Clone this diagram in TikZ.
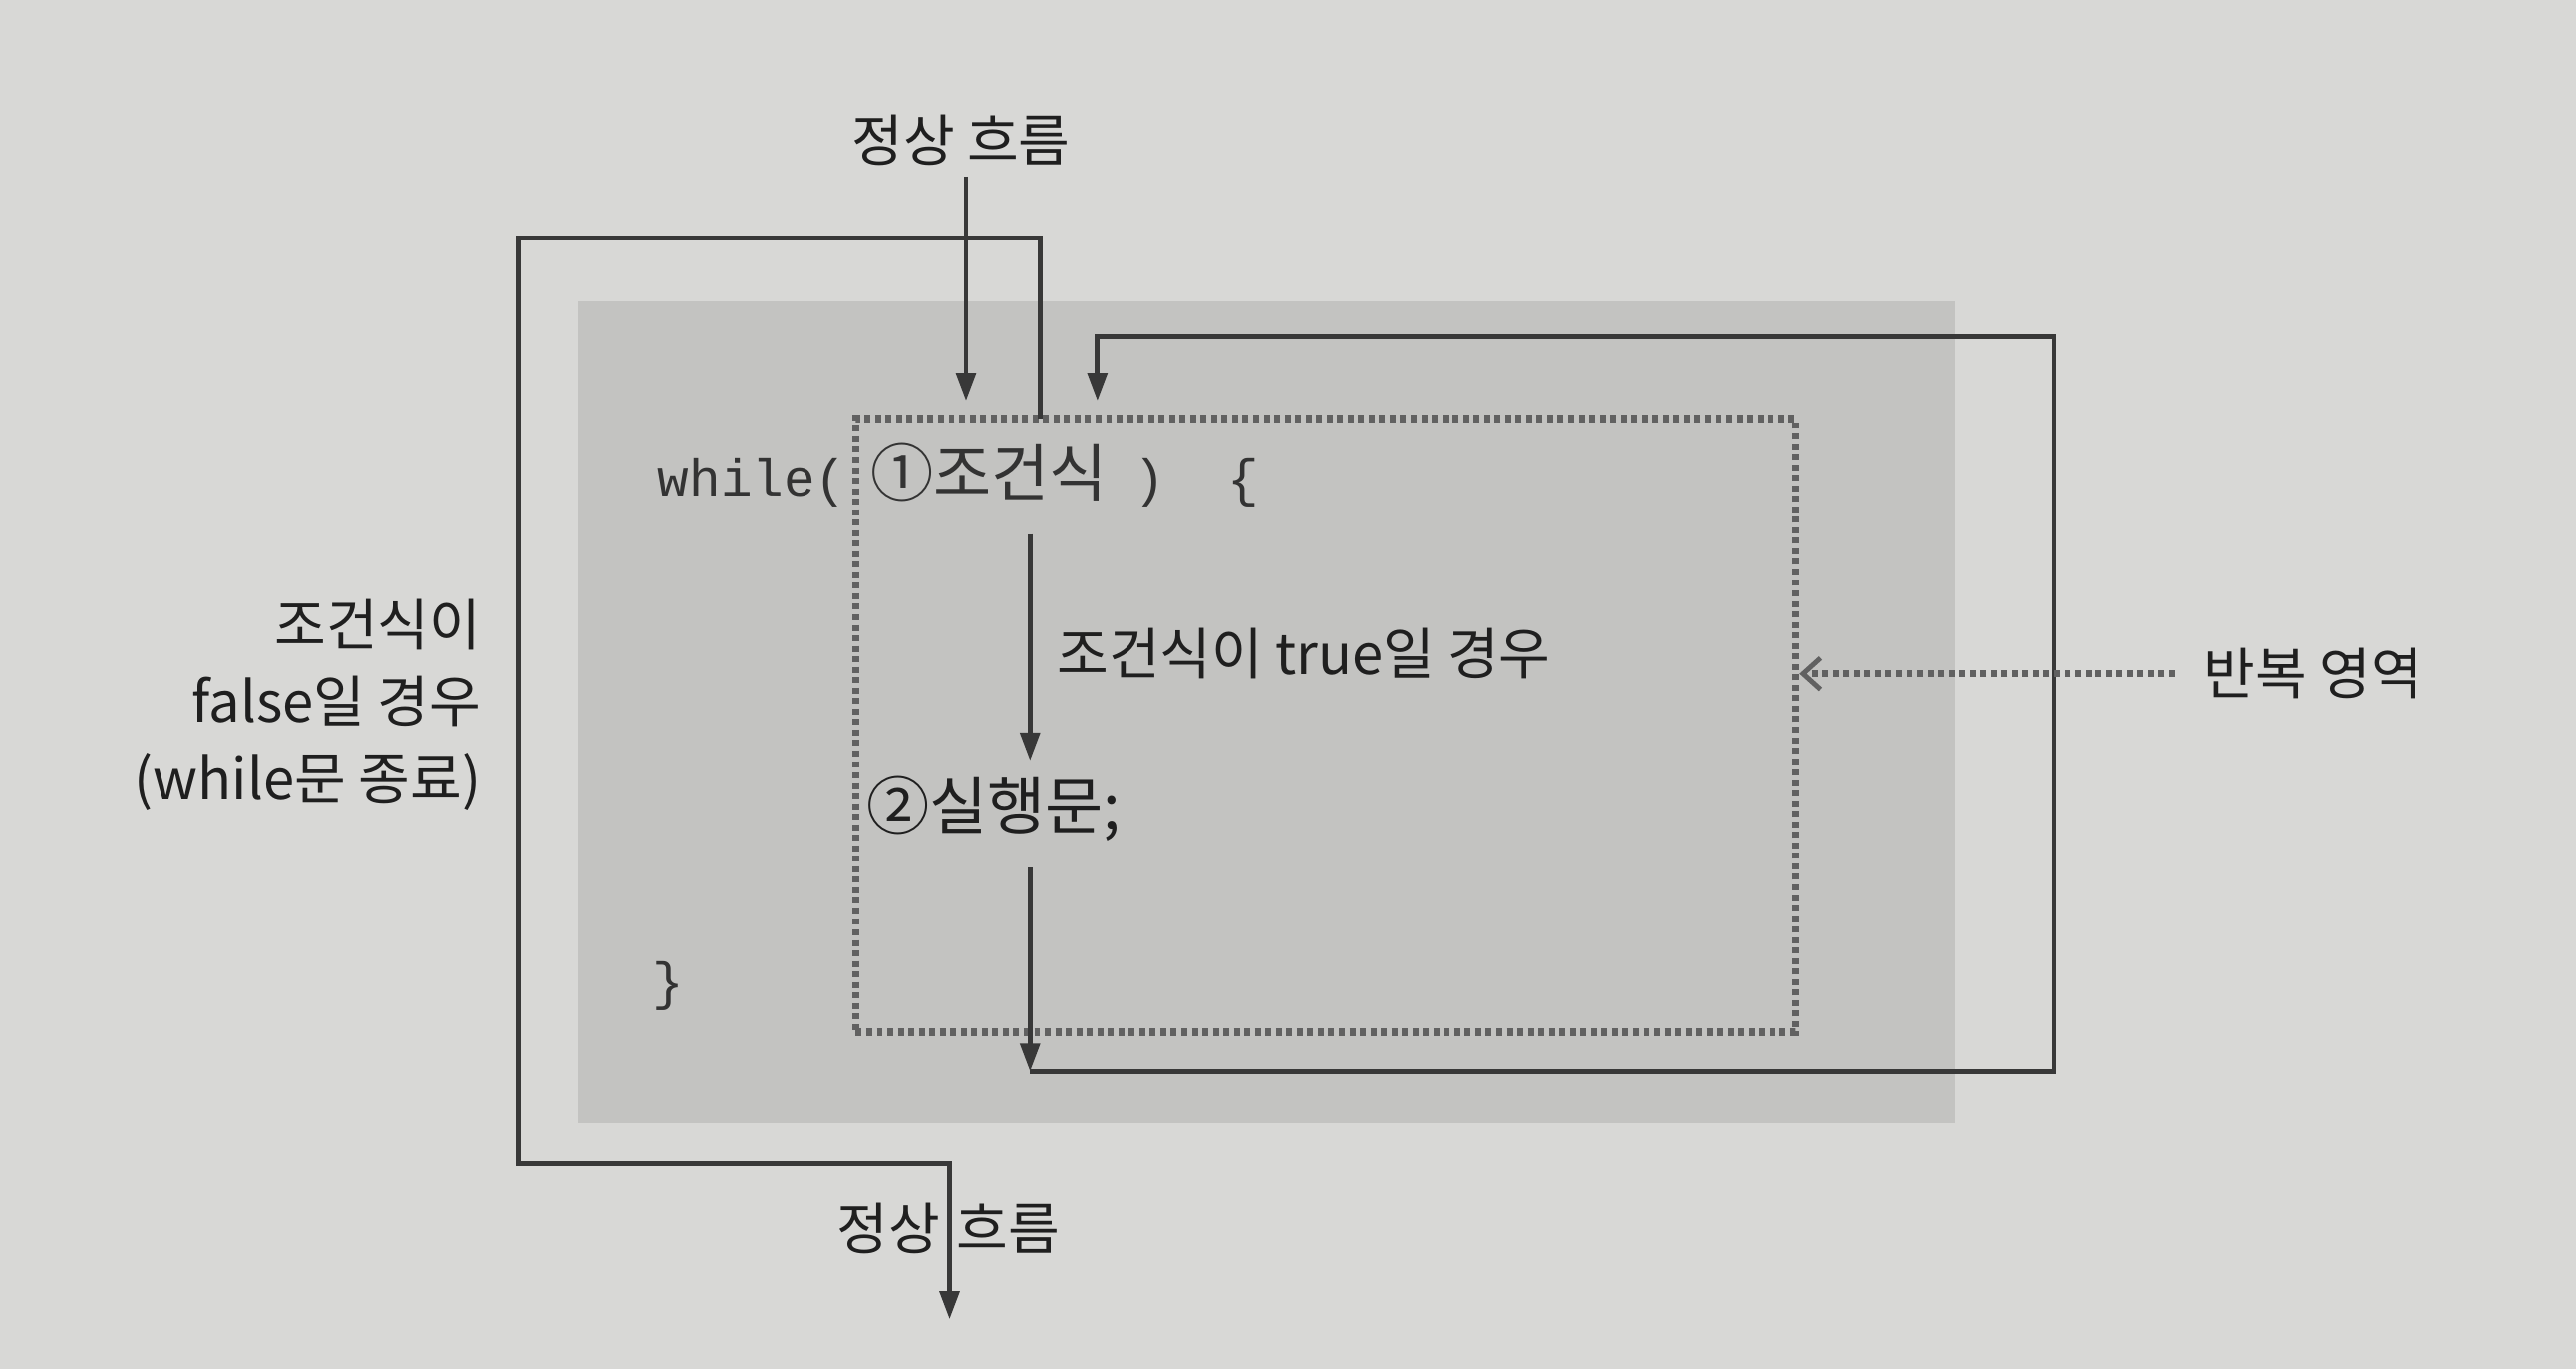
\documentclass[tikz,border=0pt]{standalone}
\usepackage{fontspec}
\setmainfont{Noto Sans CJK KR}
\setmonofont{Liberation Mono}
\newfontfamily\krfont{Noto Sans CJK KR}
\usetikzlibrary{arrows.meta}
\definecolor{paper}{HTML}{D8D8D6}
\definecolor{panel}{HTML}{C3C3C1}
\definecolor{ink}{HTML}{383838}
\begin{document}
\begin{tikzpicture}[x=0.0165cm,y=-0.0165cm,
  flow/.style={draw=ink,line width=1.4pt,line join=miter},
  tipped/.style={-{Triangle[length=8pt,width=5.5pt]}},
  dots/.style={draw=black!62,line width=2.2pt,dash pattern=on 1.7pt off 1.3pt},
  lbl/.style={font=\fontsize{16}{22}\selectfont,text=black!88,inner sep=0pt},
  code/.style={font=\fontsize{15}{18}\ttfamily,text=black!80,inner sep=0pt}]
% background and panel
\fill[paper] (0,0) rectangle (1568,833);
\useasboundingbox (0,0) rectangle (1568,833);
\fill[panel] (352,183) rectangle (1190,683);
% repeat region
\node[dots,minimum width=9.438cm,minimum height=6.155cm,inner sep=0pt] (region) at (807,441.5) {};
% texts
\node[lbl,anchor=west] (topflow) at (518,85) {정상 흐름};
\node[lbl,anchor=west] (botflow) at (509,748) {정상\hspace{0.08em} 흐름};
\node[code,anchor=base west] (whl) at (400,302) {while(\hspace{0.45em}{\krfont\fontsize{18}{20}\selectfont ①조건식}\hspace{0.5em})\hspace{1.2em}\{};
\node[lbl,anchor=west] (stmt) at (527,492) {\fontsize{18}{20}\selectfont ②실행문;};
\node[code,anchor=west] (brace) at (397,600) {\}};
\node[lbl,anchor=west] (truelbl) at (643,398) {조건식이 true일 경우};
\node[lbl,anchor=east,align=right] (falselbl) at (293,429) {조건식이\\false일 경우\\(while문 종료)};
\node[lbl,anchor=west] (rep) at (1341,410) {반복 영역};
% coordinates
\coordinate (inTop) at (588,108);
\coordinate (inTip) at (588,244);
\coordinate (fStart) at (633,255);
\coordinate (fA) at (633,145);
\coordinate (fB) at (316,145);
\coordinate (fC) at (316,708);
\coordinate (fD) at (578,708);
\coordinate (outTip) at (578,803);
\coordinate (cTop) at (627,325);
\coordinate (cTip) at (627,463);
\coordinate (sTop) at (627,528);
\coordinate (sTip) at (627,652);
\coordinate (lA) at (1250,652);
\coordinate (lB) at (1250,205);
\coordinate (lC) at (668,205);
\coordinate (lTip) at (668,244);
% connectors
\draw[flow,tipped] (inTop) -- (inTip);
\draw[flow,tipped] (fStart) -- (fA) -- (fB) -- (fC) -- (fD) -- (outTip);
\draw[flow,tipped] (cTop) -- (cTip);
\draw[flow,tipped] (sTop) -- (sTip);
\draw[flow,tipped] (sTip) -- (lA) -- (lB) -- (lC) -- (lTip);
\draw[dots,line width=2pt,-{Straight Barb[length=5pt,width=9pt,line width=1.4pt]}] ([xshift=-8pt]rep.west) -- (rep.west -| region.east);
\end{tikzpicture}
\end{document}
